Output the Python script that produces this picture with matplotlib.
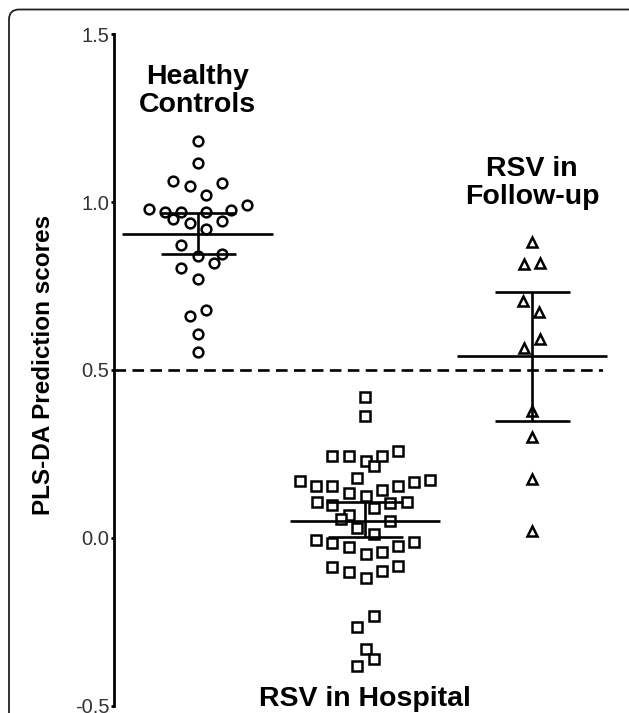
import matplotlib
matplotlib.use("Agg")
import matplotlib.pyplot as plt
from matplotlib.patches import FancyBboxPatch

plt.rcParams['font.family'] = ['Liberation Sans', 'DejaVu Sans']

# group names and x slots
groups = ['Healthy\nControls', 'RSV in Hospital', 'RSV in\nFollow-up']
group_x = [1, 2, 3]

# PLS-DA scores, with the swarm offsets as drawn
healthy = [1.182, 1.116, 1.064, 1.047, 1.057, 1.021, 0.980, 0.970, 0.970, 0.970,
           0.975, 0.991, 0.949, 0.938, 0.944, 0.919, 0.873, 0.838, 0.846, 0.818,
           0.804, 0.772, 0.661, 0.679, 0.607, 0.554]
healthy_dx = [0, 0, -0.146, -0.048, 0.149, 0.05, -0.293, -0.197, -0.098, 0.05,
              0.197, 0.295, -0.146, -0.048, 0.149, 0.05, -0.098, 0, 0.149, 0.098,
              -0.098, 0, -0.048, 0.05, 0, 0]

hospital = [0.418, 0.364, 0.245, 0.245, 0.228, 0.215, 0.245, 0.260,
            0.170, 0.155, 0.155, 0.178, 0.133, 0.126, 0.143, 0.155, 0.167, 0.172,
            0.106, 0.099, 0.089, 0.103, 0.106, 0.069, 0.056, 0.051, 0.030, 0.013,
            -0.006, -0.016, -0.026, -0.048, -0.041, -0.023, -0.013,
            -0.088, -0.103, -0.118, -0.100, -0.083,
            -0.232, -0.264, -0.331, -0.361, -0.381]
hospital_dx = [0, 0, -0.194, -0.094, 0.006, 0.056, 0.106, 0.2,
               -0.387, -0.293, -0.194, -0.044, -0.094, 0.006, 0.106, 0.2, 0.295, 0.391,
               -0.287, -0.194, 0.056, 0.152, 0.251, -0.094, -0.144, 0.152, -0.044, 0.056,
               -0.293, -0.194, -0.094, 0.006, 0.106, 0.2, 0.295,
               -0.194, -0.094, 0.006, 0.106, 0.2,
               0.056, -0.044, 0.006, 0.056, -0.044]

followup = [0.880, 0.816, 0.817, 0.706, 0.672, 0.592, 0.566, 0.377, 0.299, 0.175, 0.021]
followup_dx = [0, -0.048, 0.048, -0.052, 0.044, 0.048, -0.048, 0, 0, 0, 0]

# mean line and error bar ends
means = [0.906, 0.049, 0.541]
err_low = [0.844, 0.002, 0.349]
err_high = [0.967, 0.106, 0.731]

threshold = 0.5

fig = plt.figure(figsize=(6.29, 7.13), dpi=100)
ax = fig.add_axes([114 / 629, 7.2 / 713, 489 / 629, 0.9421])

mk = dict(mfc='white', mec='black', mew=1.8, ls='none', zorder=3)
ax.plot([group_x[0] + d for d in healthy_dx], healthy, marker='o', ms=7, **mk)
ax.plot([group_x[1] + d for d in hospital_dx], hospital, marker='s', ms=7, **mk)
ax.plot([group_x[2] + d for d in followup_dx], followup, marker='^', ms=7.6, **mk)

ax.axhline(threshold, color='black', lw=1.9, ls=(0, (4.4, 2.4)), zorder=2)

ax.hlines(means, [x - 0.45 for x in group_x], [x + 0.45 for x in group_x],
          color='black', lw=1.9, zorder=4, clip_on=False)
ax.errorbar(group_x, means,
            yerr=[[m - l for m, l in zip(means, err_low)],
                  [h - m for m, h in zip(means, err_high)]],
            fmt='none', ecolor='black', elinewidth=1.9, capsize=27, capthick=1.9,
            zorder=4)

ax.set_xlim(0.5, 3.425)
ax.set_ylim(-0.5, 1.5)
ax.set_yticks([-0.5, 0.0, 0.5, 1.0, 1.5])
ax.set_yticklabels(['-0.5', '0.0', '0.5', '1.0', '1.5'])
ax.set_xticks([])
for s in ['top', 'right', 'bottom']:
    ax.spines[s].set_visible(False)
ax.spines['left'].set_linewidth(2)
ax.tick_params(axis='y', direction='out', length=2.5, width=2, pad=1,
               labelsize=14.5, labelcolor='#333333')

bold = dict(fontsize=20.5, fontweight='bold', ha='center', linespacing=1.1)
ax.text(group_x[0], 1.332, groups[0], va='center', **bold)
ax.text(group_x[1], -0.5, groups[1], va='baseline', **bold)
ax.text(group_x[2], 1.058, groups[2], va='center', **bold)

fig.text(44 / 629, 1 - 365 / 713, 'PLS-DA Prediction scores', rotation=90,
         ha='center', va='center', fontsize=17.5, fontweight='bold')

# rounded frame around the panel, runs off the right and bottom edges
frame = FancyBboxPatch((0.09, -0.5), 6.4, 7.13 - 0.09 + 0.5 - 0.005,
                       boxstyle='round,pad=0,rounding_size=0.1',
                       transform=fig.dpi_scale_trans, fill=False,
                       ec='#222222', lw=1.3)
fig.add_artist(frame)

fig.savefig('out.png', dpi=100)
